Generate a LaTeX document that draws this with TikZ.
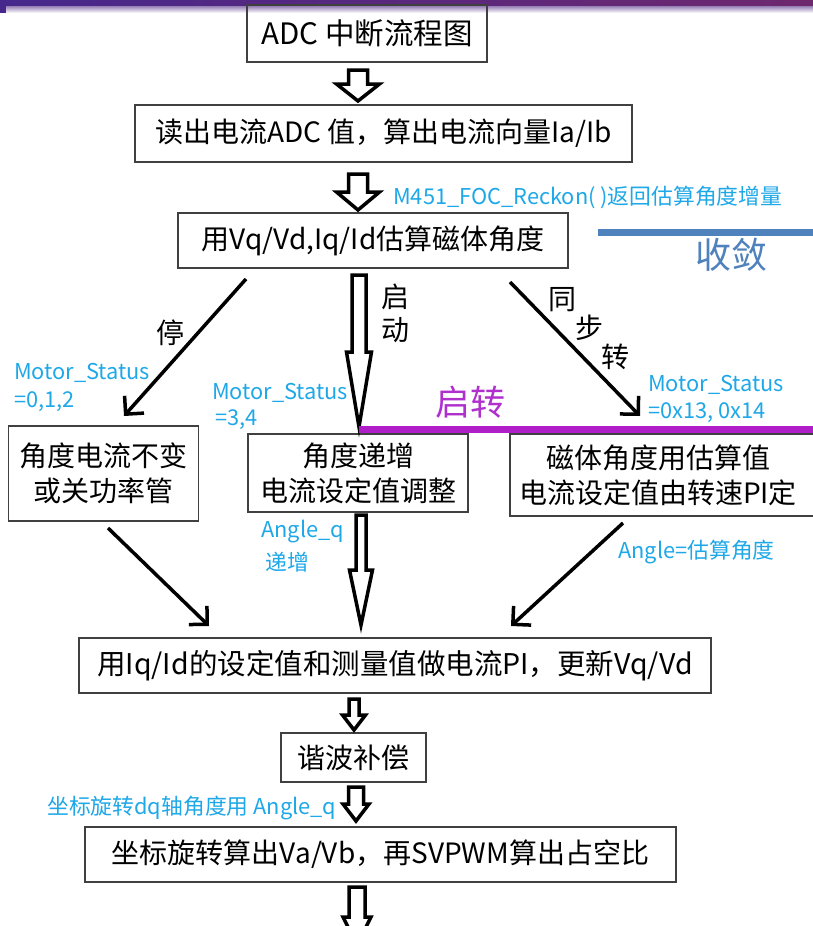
\documentclass[tikz,border=0pt]{standalone}
\usepackage{fontspec}
\setmainfont{Noto Sans CJK SC}
\usetikzlibrary{arrows.meta,calc}
\definecolor{lblue}{RGB}{30,168,232}
\definecolor{sblue}{RGB}{79,129,189}
\definecolor{purp}{RGB}{176,30,200}
\definecolor{ptext}{RGB}{176,48,206}
\definecolor{boxgray}{RGB}{64,64,64}
\definecolor{bandL}{RGB}{70,40,140}
\definecolor{bandR}{RGB}{110,40,110}
\definecolor{bandM}{RGB}{120,90,160}
\newcommand{\blockarrow}[5]{%
  \draw[blockarr] let \p1=(#1), \p2=(#2) in
    (\x1-#3,\y1) -- (\x1+#3,\y1) -- (\x1+#3,\y2+#5) -- (\x1+#4,\y2+#5)
    -- (\x1,\y2) -- (\x1-#4,\y2+#5) -- (\x1-#3,\y2+#5) -- cycle;}
\begin{document}
\begin{tikzpicture}[x=1pt,y=-1pt,
  box/.style={draw=boxgray,line width=1.4pt,inner sep=0pt,align=center,font=\fontsize{28}{35}\selectfont},
  lbl/.style={text=lblue,inner sep=0pt,anchor=west,font=\fontsize{21.8}{26}\selectfont},
  blk/.style={inner sep=0pt,font=\fontsize{28}{33}\selectfont},
  blockarr/.style={draw=black,fill=white,line width=3.5pt,line join=miter},
  thinarr/.style={draw=black,line width=3.5pt,-{Straight Barb[length=13pt,width=26pt]}}]
\useasboundingbox (0,0) rectangle (813,926);
\clip (0,0) rectangle (813,926);
\fill[white] (0,0) rectangle (813,926);
% top band
\shade[top color=bandM,bottom color=white] (0,4) rectangle (813,13);
\shade[left color=bandL,right color=bandR] (0,0) rectangle (813,5);
\fill[bandL] (0,0) rectangle (6,13);

% boxes
\node[box,minimum width=240pt,minimum height=57pt,font=\fontsize{29.5}{35}\selectfont] (n1) at (367,33.5) {ADC 中断流程图};
\node[box,minimum width=497pt,minimum height=57pt] (n2) at (383.5,133.5) {读出电流ADC 值，算出电流向量Ia/Ib};
\node[box,minimum width=390pt,minimum height=55pt] (n3) at (373,240.5) {用Vq/Vd,Iq/Id估算磁体角度};
\node[box,minimum width=190pt,minimum height=95pt] (nL) at (103.5,473.5) {角度电流不变\\或关功率管};
\node[box,minimum width=220pt,minimum height=78pt] (nM) at (358,473) {角度递增\\电流设定值调整};
\node[box,minimum width=310pt,minimum height=82pt] (nR) at (665,475) {磁体角度用估算值\hspace*{14pt}\\电流设定值由转速PI定\hspace*{14pt}};
\node[box,minimum width=632pt,minimum height=55pt,font=\fontsize{28.5}{35}\selectfont] (n4) at (395,665.5) {用Iq/Id的设定值和测量值做电流PI，更新Vq/Vd};
\node[box,minimum width=145pt,minimum height=49pt] (n5) at (353.5,757.5) {谐波补偿};
\node[box,minimum width=591pt,minimum height=55pt] (n6) at (380.5,854.5) {坐标旋转算出Va/Vb，再SVPWM算出占空比};

% block arrows
\coordinate (a1s) at (358,70);  \coordinate (a1e) at (358,101);
\coordinate (a2s) at (358,174); \coordinate (a2e) at (358,210);
\coordinate (a3s) at (359,275); \coordinate (a3e) at (359,427);
\coordinate (a4s) at (361,515); \coordinate (a4e) at (361,625);
\coordinate (a5s) at (354,699); \coordinate (a5e) at (354,730);
\coordinate (a6s) at (356,787); \coordinate (a6e) at (356,821);
\coordinate (a7s) at (357,887); \coordinate (a7e) at (357,945);
\blockarrow{a1s}{a1e}{9.5pt}{21.5pt}{17pt}
\blockarrow{a2s}{a2e}{9.5pt}{21.5pt}{18pt}
\blockarrow{a3s}{a3e}{7pt}{12.5pt}{75pt}
\blockarrow{a4s}{a4e}{5pt}{11.5pt}{55pt}
\blockarrow{a5s}{a5e}{5pt}{11.5pt}{15pt}
\blockarrow{a6s}{a6e}{7.5pt}{13pt}{17pt}
\blockarrow{a7s}{a7e}{8pt}{14pt}{28pt}

% thin arrows
\coordinate (t1s) at (246,279); \coordinate (t1e) at (124,416);
\coordinate (t2s) at (510,282); \coordinate (t2e) at (640,416);
\coordinate (t3s) at (108,528); \coordinate (t3e) at (209,626);
\coordinate (t4s) at (623,523); \coordinate (t4e) at (511,626);
\draw[thinarr] (t1s) -- (t1e);
\draw[thinarr] (t2s) -- (t2e);
\draw[thinarr] (t3s) -- (t3e);
\draw[thinarr] (t4s) -- (t4e);

% colored lines
\draw[sblue,line width=7pt] (598,232) -- (815,232);
\node[inner sep=0pt,text=sblue,font=\fontsize{36}{40}\selectfont] (shoulian) at (731,255) {收敛};
\draw[purp,line width=7pt] (359,429) -- (815,429);
\node[inner sep=0pt,text=ptext,font=\fontsize{35}{38}\selectfont] (qizhuan) at (470,402) {启转};

% black labels
\node[blk] (lt) at (170,333) {停};
\node[blk] (lq) at (395,297) {启};
\node[blk] (ld) at (395,330) {动};
\node[blk] (ltong) at (562,300) {同};
\node[blk] (lbu) at (589,328) {步};
\node[blk] (lzh) at (615,357) {转};

% blue labels
\node[lbl] (b1) at (393,197) {M451\_FOC\_Reckon( )返回估算角度增量};
\node[lbl] (b2) at (14,373) {Motor\_Status};
\node[lbl] (b3) at (14,402) {=0,1,2};
\node[lbl] (b4) at (212,393) {Motor\_Status};
\node[lbl] (b5) at (215,420) {=3,4};
\node[lbl] (b6) at (648,385) {Motor\_Status};
\node[lbl] (b7) at (648,413) {=0x13, 0x14};
\node[lbl] (b8) at (261,532) {Angle\_q};
\node[lbl] (b9) at (265,562) {递增};
\node[lbl] (b10) at (618,552) {Angle=估算角度};
\node[lbl] (b11) at (47,808) {坐标旋转dq轴角度用 Angle\_q};
\end{tikzpicture}
\end{document}
